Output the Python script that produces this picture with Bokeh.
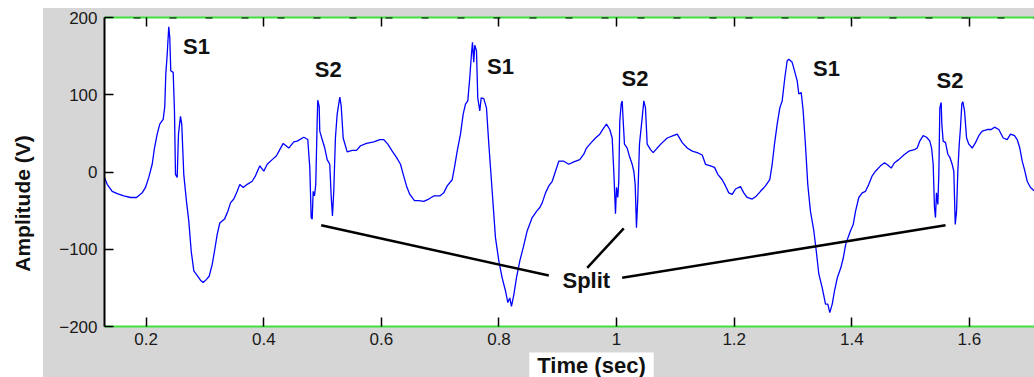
import math
from bokeh.plotting import figure
from bokeh.models import Range1d, LinearAxis, FixedTicker, Span, Label, ColumnDataSource, Spacer
from bokeh.layouts import row, column
from bokeh.embed import file_html
from bokeh.resources import INLINE
from bokeh.core.properties import value

# ---------------- data ----------------
time_s = [
    0.1291, 0.1337, 0.1422, 0.1507, 0.1619, 0.1733, 0.1835, 0.1932, 0.1988, 0.2044,
    0.2102, 0.2141, 0.2187, 0.2231, 0.2289, 0.2316, 0.2333, 0.2357, 0.2384, 0.2401,
    0.2418, 0.2459, 0.2481, 0.2498, 0.2527, 0.2549, 0.2583, 0.2605, 0.2639, 0.2685,
    0.2724, 0.2765, 0.2810, 0.2878, 0.2923, 0.2969, 0.3026, 0.3071, 0.3122, 0.3167,
    0.3207, 0.3252, 0.3332, 0.3388, 0.3434, 0.3490, 0.3548, 0.3592, 0.3650, 0.3718,
    0.3803, 0.3859, 0.3932, 0.4000, 0.4058, 0.4143, 0.4216, 0.4272, 0.4330, 0.4425,
    0.4510, 0.4568, 0.4680, 0.4748, 0.4782, 0.4806, 0.4823, 0.4840, 0.4862, 0.4884,
    0.4908, 0.4918, 0.4942, 0.4952, 0.4993, 0.5037, 0.5078, 0.5122, 0.5146, 0.5168,
    0.5190, 0.5218, 0.5248, 0.5293, 0.5316, 0.5350, 0.5418, 0.5503, 0.5577, 0.5645,
    0.5747, 0.5871, 0.5973, 0.6041, 0.6109, 0.6184, 0.6257, 0.6325, 0.6371, 0.6427,
    0.6483, 0.6563, 0.6636, 0.6721, 0.6806, 0.6891, 0.6993, 0.7061, 0.7119, 0.7204,
    0.7243, 0.7289, 0.7345, 0.7391, 0.7430, 0.7469, 0.7503, 0.7532, 0.7549, 0.7571,
    0.7588, 0.7617, 0.7639, 0.7673, 0.7697, 0.7741, 0.7787, 0.7827, 0.7884, 0.7940,
    0.7997, 0.8054, 0.8111, 0.8150, 0.8184, 0.8212, 0.8252, 0.8297, 0.8354, 0.8412,
    0.8480, 0.8565, 0.8638, 0.8694, 0.8735, 0.8791, 0.8847, 0.8905, 0.8961, 0.9017,
    0.9102, 0.9187, 0.9272, 0.9374, 0.9442, 0.9488, 0.9556, 0.9641, 0.9714, 0.9782,
    0.9828, 0.9884, 0.9925, 0.9952, 0.9981, 0.9998, 1.0020, 1.0037, 1.0054, 1.0078,
    1.0095, 1.0112, 1.0134, 1.0180, 1.0224, 1.0265, 1.0293, 1.0316, 1.0338, 1.0361,
    1.0389, 1.0435, 1.0463, 1.0491, 1.0520, 1.0577, 1.0622, 1.0690, 1.0776, 1.0861,
    1.0963, 1.1031, 1.1116, 1.1201, 1.1286, 1.1371, 1.1456, 1.1512, 1.1597, 1.1665,
    1.1721, 1.1796, 1.1852, 1.1908, 1.1966, 1.2022, 1.2107, 1.2163, 1.2221, 1.2306,
    1.2379, 1.2447, 1.2532, 1.2605, 1.2646, 1.2685, 1.2731, 1.2776, 1.2816, 1.2861,
    1.2901, 1.2929, 1.2986, 1.3026, 1.3071, 1.3099, 1.3139, 1.3173, 1.3211, 1.3251,
    1.3297, 1.3354, 1.3395, 1.3439, 1.3497, 1.3553, 1.3592, 1.3626, 1.3667, 1.3706,
    1.3753, 1.3813, 1.3856, 1.3895, 1.3935, 1.3978, 1.4024, 1.4063, 1.4119, 1.4177,
    1.4233, 1.4289, 1.4347, 1.4403, 1.4488, 1.4556, 1.4612, 1.4670, 1.4726, 1.4799,
    1.4884, 1.4969, 1.5066, 1.5112, 1.5156, 1.5214, 1.5272, 1.5327, 1.5357, 1.5384,
    1.5406, 1.5423, 1.5440, 1.5463, 1.5480, 1.5497, 1.5520, 1.5531, 1.5554, 1.5594,
    1.5633, 1.5667, 1.5707, 1.5735, 1.5759, 1.5781, 1.5803, 1.5827, 1.5848, 1.5871,
    1.5888, 1.5917, 1.5952, 1.5990, 1.6048, 1.6104, 1.6160, 1.6218, 1.6303, 1.6371,
    1.6427, 1.6500, 1.6575, 1.6643, 1.6699, 1.6767, 1.6813, 1.6857, 1.6898, 1.6937,
    1.6983, 1.7039, 1.7109,
]
amplitude_v = [
    -7, -16, -25, -28, -31, -33, -33, -27, -20, -7,
    10, 31, 49, 62, 68, 85, 126, 152, 188, 174,
    131, 129, 79, -3, -7, 49, 72, 62, -3, -38,
    -63, -102, -128, -135, -140, -143, -139, -135, -120, -100,
    -81, -66, -61, -51, -40, -35, -25, -16, -20, -16,
    -12, -5, 8, 1, 10, 16, 21, 29, 37, 31,
    39, 40, 45, 42, 6, -59, -61, -25, -31, -16,
    66, 93, 85, 53, 42, 31, 16, 10, -31, -57,
    -25, 44, 75, 97, 86, 44, 26, 28, 28, 34,
    37, 39, 42, 42, 36, 27, 19, 10, -3, -18,
    -29, -37, -37, -38, -35, -31, -31, -27, -18, -10,
    6, 27, 49, 75, 88, 92, 122, 153, 168, 142,
    164, 157, 96, 79, 96, 95, 83, 36, -25, -85,
    -115, -137, -154, -169, -163, -174, -159, -137, -115, -98,
    -76, -59, -51, -46, -40, -27, -18, -12, 1, 14,
    14, 10, 13, 16, 23, 31, 37, 44, 49, 57,
    62, 55, 44, 1, -54, -20, -33, -12, 66, 88,
    92, 66, 36, 31, 19, 10, 1, -16, -72, -33,
    36, 70, 92, 83, 36, 29, 25, 31, 38, 44,
    47, 49, 38, 31, 27, 25, 22, 10, 8, 6,
    -3, -10, -18, -27, -29, -22, -19, -27, -33, -35,
    -31, -25, -18, -10, 10, 36, 62, 83, 92, 122,
    144, 146, 142, 131, 118, 101, 103, 79, 36, -16,
    -51, -76, -102, -132, -150, -171, -171, -182, -171, -154,
    -137, -124, -111, -94, -85, -76, -68, -51, -33, -27,
    -25, -16, -5, 1, 8, 12, 9, 5, 12, 16,
    22, 27, 29, 31, 40, 47, 45, 40, 31, 10,
    -46, -59, -27, -42, -3, 83, 90, 62, 40, 38,
    23, 19, 10, 1, -68, -51, 1, 36, 57, 88,
    91, 79, 44, 36, 31, 38, 47, 53, 55, 55,
    58, 55, 44, 42, 49, 47, 42, 31, 14, 3,
    -12, -20, -25,
]

x_ticks = [0.2, 0.4, 0.6, 0.8, 1.0, 1.2, 1.4, 1.6]
x_tick_labels = {1: "1"}
y_ticks = [-200, -100, 0, 100, 200]

label_text = ["S1", "S2", "S1", "S2", "S1", "S2", "Split"]
label_t = [0.2855, 0.5097, 0.8025, 1.0313, 1.3570, 1.5670, 0.9485]
label_amp = [162, 133, 136, 121, 134, 119, -141]

split_t0 = [0.4976, 0.9500, 1.0095]
split_a0 = [-69, -124, -137]
split_t1 = [0.8847, 1.0122, 1.5594]
split_a1 = [-134, -73, -69]

x_title = "Time (sec)"
y_title = "Amplitude (V)"

# ---------------- styling ----------------
GRAY = "#d6d6d6"
GREEN = "#40e040"
FONT = "Liberation Sans"

p = figure(width=991, height=344,
           x_range=Range1d(0.1291, 1.7107), y_range=Range1d(-200, 200),
           x_axis_type=None, y_axis_type=None,
           output_backend="svg", toolbar_location=None)
p.min_border_left = 61
p.min_border_right = 0
p.min_border_top = 9
p.min_border_bottom = 26
p.border_fill_color = GRAY
p.background_fill_color = "white"
p.outline_line_color = None
p.styles = {"background-color": GRAY}


def style_axis(ax, line_color):
    ax.axis_line_color = line_color
    ax.axis_line_width = 2
    ax.major_tick_in = 9
    ax.major_tick_out = 0
    ax.major_tick_line_color = "black"
    ax.major_tick_line_width = 1.5
    ax.minor_tick_line_color = None
    ax.major_label_standoff = 7
    ax.major_label_text_font = FONT
    ax.major_label_text_color = "#1a1a1a"
    ax.major_label_text_font_size = "17px"


yaxis = LinearAxis(ticker=FixedTicker(ticks=y_ticks))
style_axis(yaxis, "black")
p.add_layout(yaxis, "left")

xaxis = LinearAxis(ticker=FixedTicker(ticks=x_ticks))
style_axis(xaxis, GREEN)
xaxis.major_label_standoff = 6
xaxis.major_label_overrides = x_tick_labels
p.add_layout(xaxis, "below")

topaxis = LinearAxis(ticker=FixedTicker(ticks=x_ticks))
style_axis(topaxis, GREEN)
topaxis.major_label_standoff = 0
topaxis.major_label_text_font_size = "1px"
topaxis.major_label_overrides = {t: "" for t in x_ticks}
p.add_layout(topaxis, "above")

p.add_layout(Span(location=200, dimension="width", line_color="black",
                  line_width=2, line_dash="7 29", line_dash_offset=7))

src = ColumnDataSource(dict(t=time_s, amp=amplitude_v))
p.line("t", "amp", source=src, line_color="#0000ff", line_width=1.3)

seg = ColumnDataSource(dict(x0=split_t0, y0=split_a0, x1=split_t1, y1=split_a1))
p.segment("x0", "y0", "x1", "y1", source=seg, line_color="black", line_width=2.5)

lab = ColumnDataSource(dict(t=label_t, amp=label_amp, txt=label_text))
p.text("t", "amp", text="txt", source=lab, text_font=value(FONT),
       text_font_style="bold", text_font_size="22px", text_color="#111111",
       text_align="center", text_baseline="middle")

# bottom gray strip holding the x title on its white box
bfig = figure(width=991, height=25, x_range=Range1d(0, 1), y_range=Range1d(0, 1),
              x_axis_type=None, y_axis_type=None,
              output_backend="svg", toolbar_location=None)
bfig.min_border = 0
bfig.min_border_left = 61
bfig.outline_line_color = None
bfig.background_fill_color = GRAY
bfig.border_fill_color = GRAY
bfig.styles = {"background-color": GRAY}
bfig.add_layout(Label(x=487, y=12, x_units="screen", y_units="screen", text=x_title,
                      text_font=FONT, text_font_style="bold", text_font_size="22px",
                      text_color="#111111", text_align="center", text_baseline="middle",
                      background_fill_color="white", padding=(8, 11)))

# left strip with the y title on white
yfig = figure(width=43, height=377, x_range=Range1d(0, 1), y_range=Range1d(0, 1),
              x_axis_type=None, y_axis_type=None,
              output_backend="svg", toolbar_location=None)
yfig.min_border = 0
yfig.outline_line_color = None
yfig.background_fill_color = "white"
yfig.border_fill_color = "white"
yfig.add_layout(Label(x=22, y=174, x_units="screen", y_units="screen", text=y_title,
                      angle=math.pi / 2, text_font=FONT, text_font_style="bold",
                      text_font_size="21px", text_color="#111111",
                      text_align="center", text_baseline="middle"))

layout = row(yfig, column(Spacer(width=991, height=8), p, bfig))
open("out.html", "w").write(file_html(layout, INLINE))
